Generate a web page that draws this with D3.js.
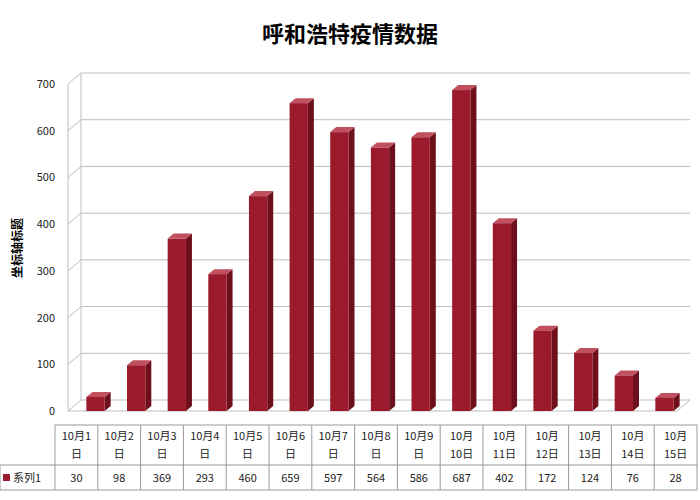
<!DOCTYPE html>
<html><head><meta charset="utf-8">
<script src="https://cdn.jsdelivr.net/npm/d3@7"></script>
<style>body{margin:0;background:#fff}text{font-family:"Noto Sans CJK SC","DejaVu Sans",sans-serif}</style>
</head><body><div id="chart"></div>
<script>
// data
const dates = ["10月1日","10月2日","10月3日","10月4日","10月5日","10月6日","10月7日","10月8日","10月9日","10月10日","10月11日","10月12日","10月13日","10月14日","10月15日"];
const headLines = [["10月1","日"],["10月2","日"],["10月3","日"],["10月4","日"],["10月5","日"],["10月6","日"],["10月7","日"],["10月8","日"],["10月9","日"],["10月","10日"],["10月","11日"],["10月","12日"],["10月","13日"],["10月","14日"],["10月","15日"]];
const cases = [30,98,369,293,460,659,597,564,586,687,402,172,124,76,28];
const yTicks = [0,100,200,300,400,500,600,700];

const width = 700, height = 500;
const svg = d3.select("#chart").append("svg").attr("width", width).attr("height", height);

const dx = 13, dy = -11; // depth of the 3D walls
const y = d3.scaleLinear().domain([0, 700]).range([411, 84]);
const x = d3.scaleBand().domain(dates).range([75, 685]).paddingInner(0.55).paddingOuter(0.28);

svg.append("text").attr("x", 350).attr("y", 42).attr("text-anchor", "middle")
  .attr("font-size", 22).attr("font-weight", "bold").text("呼和浩特疫情数据");

// gridlines on back wall + left wall
const grid = svg.append("g").attr("stroke", "#bdbdbd").attr("fill", "none");
yTicks.forEach(t => {
  grid.append("path").attr("d", `M68,${y(t)}L${68+dx},${y(t)+dy}L690,${y(t)+dy}`);
});
grid.append("line").attr("x1", 68).attr("x2", 68).attr("y1", y(700)).attr("y2", y(0));
grid.append("line").attr("x1", 68+dx).attr("x2", 68+dx).attr("y1", y(700)+dy).attr("y2", y(0)+dy);
grid.append("path").attr("d", `M68,${y(0)}L677,${y(0)}L690,${y(0)+dy}`);

// y labels
svg.append("g").selectAll("text").data(yTicks).join("text")
  .attr("x", 55).attr("y", d => y(d) + 4).attr("text-anchor", "end")
  .attr("font-size", 11).attr("fill", "#222").text(d => d);

svg.append("text").attr("transform", "translate(22,248) rotate(-90)")
  .attr("text-anchor", "middle").attr("font-size", 12).attr("font-weight", "bold").text("坐标轴标题");

// 3D bars
const bw = x.bandwidth(), bdx = 6, bdy = -5;
const bars = svg.append("g").selectAll("g").data(dates).join("g");
bars.append("path").attr("fill", "#6e0f1c")
  .attr("d", (d, i) => { const x1 = x(d) + bw, t = y(cases[i]);
    return `M${x1},${t}L${x1+bdx},${t+bdy}L${x1+bdx},${y(0)+bdy}L${x1},${y(0)}Z`; });
bars.append("path").attr("fill", "#c0505f")
  .attr("d", (d, i) => { const x0 = x(d), t = y(cases[i]);
    return `M${x0},${t}L${x0+bdx},${t+bdy}L${x0+bw+bdx},${t+bdy}L${x0+bw},${t}Z`; });
bars.append("rect").attr("fill", "#9b1b2c")
  .attr("x", d => x(d)).attr("width", bw)
  .attr("y", (d, i) => y(cases[i])).attr("height", (d, i) => y(0) - y(cases[i]));

// data table
const tx = d3.scaleBand().domain(dates).range([55, 697]);
const t0 = 425, t1 = 465, t2 = 490;
const tbl = svg.append("g").attr("stroke", "#999").attr("fill", "none");
tbl.append("line").attr("x1", 55).attr("x2", 697).attr("y1", t0).attr("y2", t0);
tbl.append("line").attr("x1", 0).attr("x2", 697).attr("y1", t1).attr("y2", t1);
tbl.append("line").attr("x1", 0).attr("x2", 697).attr("y1", t2).attr("y2", t2);
tbl.append("line").attr("x1", 0).attr("x2", 0).attr("y1", t1).attr("y2", t2);
tbl.selectAll(".v").data(dates).join("line").attr("class", "v")
  .attr("x1", d => tx(d)).attr("x2", d => tx(d)).attr("y1", t0).attr("y2", t2);
tbl.append("line").attr("x1", 697).attr("x2", 697).attr("y1", t0).attr("y2", t2);

const head = svg.append("g").selectAll("text").data(dates).join("text")
  .attr("text-anchor", "middle").attr("font-size", 11).attr("fill", "#222");
head.each(function(d, i) {
  const c = tx(d) + tx.bandwidth() / 2;
  d3.select(this).selectAll("tspan").data(headLines[i]).join("tspan")
    .attr("x", c).attr("y", (s, j) => t0 + 15 + j * 18).text(s => s);
});
svg.append("g").selectAll("text").data(dates).join("text")
  .attr("x", d => tx(d) + tx.bandwidth() / 2).attr("y", t2 - 8)
  .attr("text-anchor", "middle").attr("font-size", 11).attr("fill", "#222")
  .text((d, i) => cases[i]);
svg.append("rect").attr("x", 3).attr("y", t1 + 9).attr("width", 7).attr("height", 7).attr("fill", "#9b1b2c");
svg.append("text").attr("x", 13).attr("y", t2 - 8).attr("font-size", 11).attr("fill", "#222").text("系列1");
</script></body></html>
